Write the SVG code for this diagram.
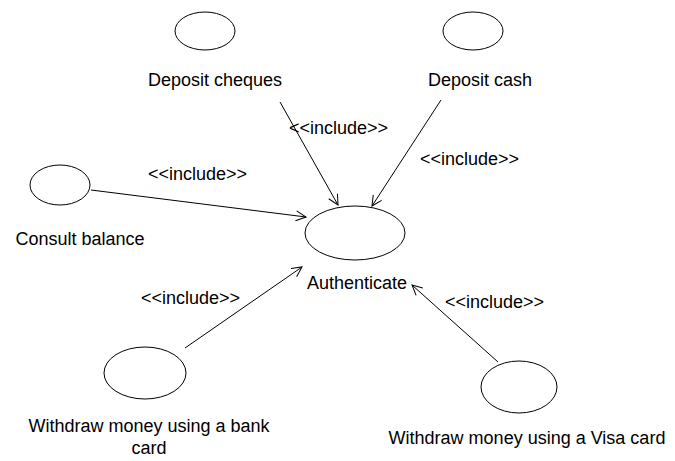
<svg xmlns="http://www.w3.org/2000/svg" width="675" height="461" viewBox="0 0 675 461">
  <style>
    .uc { fill: #ffffff; stroke: #000000; stroke-width: 1; }
    .lbl { font-family: "Liberation Sans", Arial, sans-serif; font-size: 18px; fill: #000000; text-anchor: middle; }
    .inc { font-family: "Liberation Sans", Arial, sans-serif; font-size: 18px; fill: #000000; }
    .edge { stroke: #000000; stroke-width: 1; fill: none; marker-end: url(#open); }
  </style>
  <defs>
    <marker id="open" viewBox="0 0 12 12" refX="11" refY="6" markerWidth="12" markerHeight="12" markerUnits="userSpaceOnUse" orient="auto">
      <path d="M1,1 L11,6 L1,11" fill="none" stroke="#000000" stroke-width="1"/>
    </marker>
  </defs>
  <rect width="675" height="461" fill="#ffffff"/>

  <g id="deposit-cheques">
    <ellipse class="uc" cx="205" cy="31" rx="30" ry="19"/>
    <text class="lbl" x="215" y="86">Deposit cheques</text>
  </g>
  <g id="deposit-cash">
    <ellipse class="uc" cx="473" cy="31" rx="30" ry="19"/>
    <text class="lbl" x="480" y="86">Deposit cash</text>
  </g>
  <g id="consult-balance">
    <ellipse class="uc" cx="60" cy="185" rx="30" ry="20"/>
    <text class="lbl" x="80" y="245">Consult balance</text>
  </g>
  <g id="authenticate">
    <ellipse class="uc" cx="355" cy="233" rx="50" ry="27"/>
    <text class="lbl" x="357" y="289">Authenticate</text>
  </g>
  <g id="withdraw-bank">
    <ellipse class="uc" cx="145" cy="373" rx="41" ry="26"/>
    <text class="lbl" x="149" y="432">Withdraw money using a bank</text>
    <text class="lbl" x="149" y="454">card</text>
  </g>
  <g id="withdraw-visa">
    <ellipse class="uc" cx="519" cy="387" rx="38" ry="26"/>
    <text class="lbl" x="527" y="444">Withdraw money using a Visa card</text>
  </g>

  <g id="connectors">
    <line class="edge" x1="280" y1="102" x2="338" y2="205"/>
    <line class="edge" x1="441" y1="100" x2="372" y2="206"/>
    <line class="edge" x1="91" y1="190" x2="306" y2="217"/>
    <line class="edge" x1="185" y1="348" x2="302" y2="267"/>
    <line class="edge" x1="498" y1="362" x2="412" y2="285"/>
    <text class="inc" x="289" y="134">&lt;&lt;include&gt;&gt;</text>
    <text class="inc" x="420" y="165">&lt;&lt;include&gt;&gt;</text>
    <text class="inc" x="148" y="180">&lt;&lt;include&gt;&gt;</text>
    <text class="inc" x="141" y="304">&lt;&lt;include&gt;&gt;</text>
    <text class="inc" x="445" y="308">&lt;&lt;include&gt;&gt;</text>
  </g>
</svg>
